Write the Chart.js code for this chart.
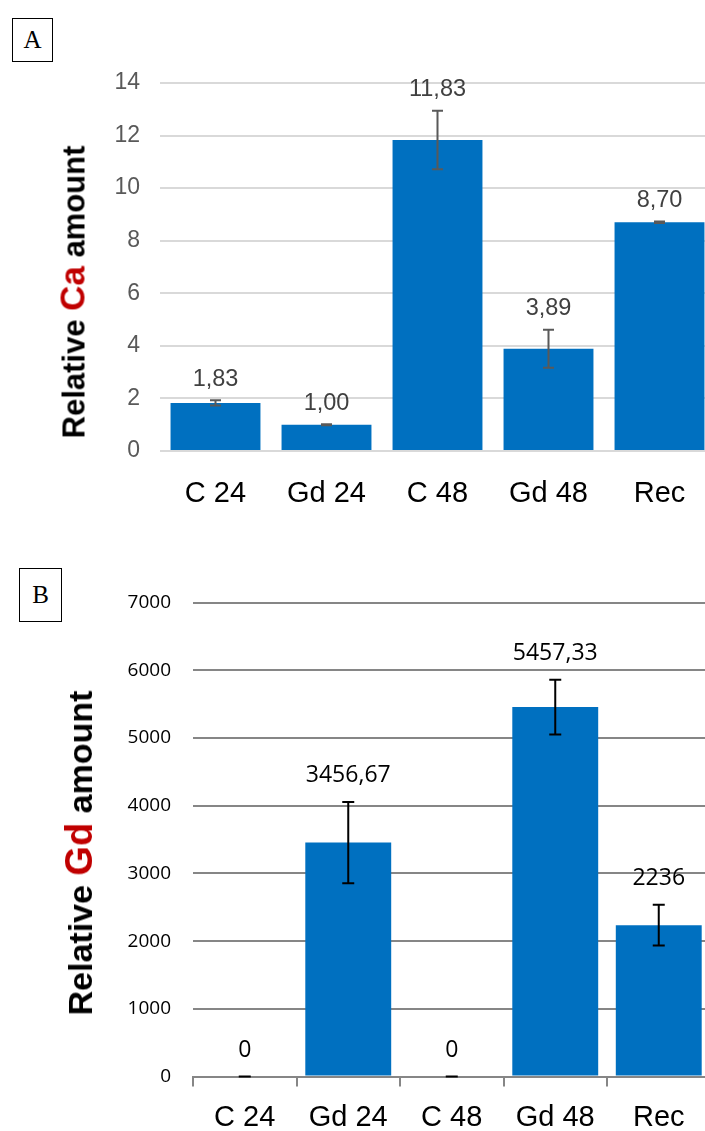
<!DOCTYPE html>
<html>
<head>
<meta charset="utf-8">
<script src="https://cdn.jsdelivr.net/npm/chart.js@4/dist/chart.umd.min.js"></script>
<style>
  html, body { margin: 0; padding: 0; background: #fff; }
  body { position: relative; width: 705px; height: 1131px; overflow: hidden; }
  .panel { position: absolute; left: 0; }
  #wrapA { top: 0; width: 720px; height: 530px; }
  #wrapB { top: 560px; width: 720px; height: 571px; }
  .tag {
    position: absolute; border: 1.5px solid #000; box-sizing: border-box; background: #fff;
    font-family: "Liberation Serif", "Times New Roman", serif; font-size: 25px; color: #000;
    display: flex; align-items: center; justify-content: center; z-index: 2;
  }
  .ytitle {
    position: absolute; transform: translate(-50%, -50%) rotate(-90deg); white-space: nowrap;
    font-family: "Liberation Sans", Arial, sans-serif; font-weight: bold; color: #000; z-index: 2;
    line-height: 1;
  }
  .ytitle .el { color: #C00000; }
</style>
</head>
<body>
<div class="panel" id="wrapA"><canvas id="chartA" width="720" height="530"></canvas></div>
<div class="panel" id="wrapB"><canvas id="chartB" width="720" height="571"></canvas></div>

<div class="tag" style="left:12px; top:18px; width:41px; height:44px;">A</div>
<div class="tag" style="left:19px; top:568px; width:43px; height:54px;">B</div>

<div class="ytitle" style="left:72px; top:292px; font-size:31px;">Relative <span class="el" style="font-size:35px;">Ca</span> amount</div>
<div class="ytitle" style="left:79px; top:853px; font-size:34px;">Relative <span class="el" style="font-size:38px;">Gd</span> amount</div>

<script>
// Sample groups shared by both panels
const groups = ['C 24', 'Gd 24', 'C 48', 'Gd 48', 'Rec'];

// Panel A: relative Ca amount, mean and error
const caValues = [1.83, 1.00, 11.83, 3.89, 8.70];
const caErrors = [0.10, 0.02, 1.11, 0.72, 0.03];
const caTicks  = [0, 2, 4, 6, 8, 10, 12, 14];

// Panel B: relative Gd amount, mean and error
const gdValues = [0, 3456.67, 0, 5457.33, 2236];
const gdErrors = [0, 600, 0, 405, 300];
const gdTicks  = [0, 1000, 2000, 3000, 4000, 5000, 6000, 7000];

const BAR_BLUE = '#0070C0';
const SANS = "'Liberation Sans', Arial, sans-serif";
const OPEN = "'Open Sans', sans-serif";

// Draws error bars and the value label above each bar
const errorBarPlugin = {
  id: 'errorBars',
  afterDatasetsDraw(chart, args, opts) {
    const { ctx, scales: { x, y } } = chart;
    const values = chart.data.datasets[0].data;
    ctx.save();
    values.forEach((v, i) => {
      const e = opts.errors[i];
      const px = x.getPixelForValue(i);
      const yTop = y.getPixelForValue(v + e);
      const yBot = y.getPixelForValue(Math.max(0, v - e));
      const half = opts.cap / 2;
      ctx.strokeStyle = opts.color;
      ctx.lineWidth = opts.width;
      ctx.beginPath();
      ctx.moveTo(px, yTop); ctx.lineTo(px, yBot);
      ctx.moveTo(px - half, yTop); ctx.lineTo(px + half, yTop);
      ctx.moveTo(px - half, yBot); ctx.lineTo(px + half, yBot);
      ctx.stroke();

      ctx.fillStyle = opts.labelColor;
      ctx.font = opts.labelFont;
      ctx.textAlign = 'center';
      ctx.textBaseline = 'middle';
      ctx.fillText(opts.format(v), px, yTop - opts.labelGap);
    });
    ctx.restore();
  }
};

function tickList(list) {
  return function (scale) {
    scale.ticks = list.map(v => ({ value: v }));
  };
}

// Panel A
new Chart(document.getElementById('chartA'), {
  type: 'bar',
  data: {
    labels: groups,
    datasets: [{ data: caValues, backgroundColor: BAR_BLUE, borderWidth: 0,
                 barPercentage: 0.81, categoryPercentage: 1 }]
  },
  options: {
    responsive: false,
    animation: false,
    layout: { padding: { top: 83, right: 5, bottom: 0, left: 0 } },
    plugins: {
      legend: { display: false },
      tooltip: { enabled: false },
      errorBars: {
        errors: caErrors, color: '#595959', width: 2, cap: 11,
        labelColor: '#404040', labelFont: '23.5px ' + SANS, labelGap: 21,
        format: v => v.toFixed(2).replace('.', ',')
      }
    },
    scales: {
      x: {
        grid: { display: false, drawTicks: false },
        border: { display: false },
        ticks: { color: '#000', font: { family: SANS, size: 29 }, padding: 26, maxRotation: 0 },
        afterFit(scale) { scale.height = 79; }
      },
      y: {
        min: 0, max: 14,
        afterBuildTicks: tickList(caTicks),
        grid: { color: '#D9D9D9', lineWidth: 2, drawTicks: false },
        border: { display: false },
        ticks: { color: '#595959', font: { family: SANS, size: 23 }, padding: 20,
                 callback: v => String(v) },
        afterFit(scale) { scale.width = 160; }
      }
    }
  },
  plugins: [errorBarPlugin]
});

// Panel B
new Chart(document.getElementById('chartB'), {
  type: 'bar',
  data: {
    labels: groups,
    datasets: [{ data: gdValues, backgroundColor: BAR_BLUE, borderWidth: 0,
                 barPercentage: 0.83, categoryPercentage: 1 }]
  },
  options: {
    responsive: false,
    animation: false,
    layout: { padding: { top: 42.7, right: 9.5, bottom: 0, left: 0 } },
    plugins: {
      legend: { display: false },
      tooltip: { enabled: false },
      errorBars: {
        errors: gdErrors, color: '#000', width: 2, cap: 12,
        labelColor: '#000', labelFont: '23px ' + OPEN, labelGap: 26,
        format: v => String(v).replace('.', ',')
      }
    },
    scales: {
      x: {
        grid: { display: true, drawOnChartArea: false, drawTicks: true, tickLength: 10,
                color: '#868686', lineWidth: 2, offset: true },
        border: { display: true, color: '#868686', width: 2 },
        ticks: { color: '#000', font: { family: SANS, size: 29 }, padding: 14, maxRotation: 0 },
        afterFit(scale) { scale.height = 54.5; }
      },
      y: {
        min: 0, max: 7000,
        afterBuildTicks: tickList(gdTicks),
        grid: { color: '#868686', lineWidth: 2, drawTicks: false },
        border: { display: false },
        ticks: { color: '#000', font: { family: OPEN, size: 19 }, padding: 22,
                 callback: v => String(v) },
        afterFit(scale) { scale.width = 193; }
      }
    }
  },
  plugins: [errorBarPlugin]
});
</script>
</body>
</html>
